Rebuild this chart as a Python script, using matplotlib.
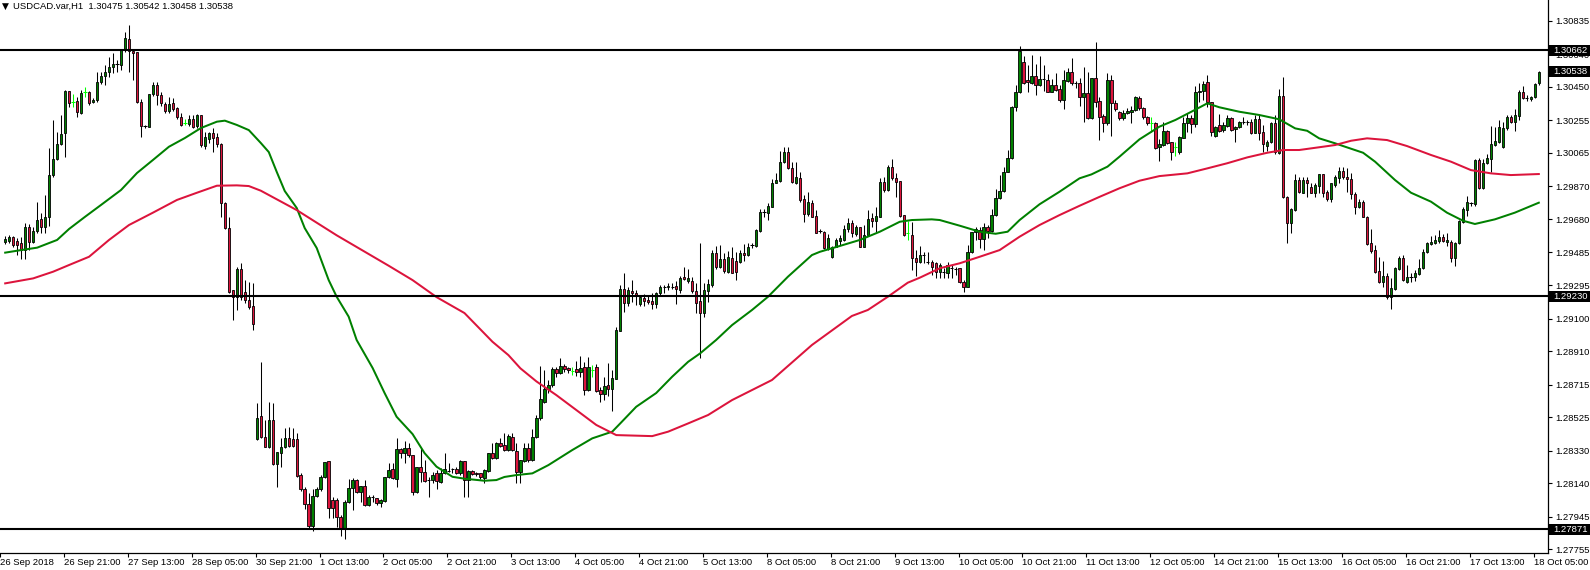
import matplotlib
matplotlib.use("Agg")
import matplotlib.pyplot as plt
from matplotlib.patches import Rectangle
from matplotlib.transforms import IdentityTransform
import numpy as np

plt.rcParams['font.family'] = ['Liberation Sans', 'DejaVu Sans']

# ---------------- data (USDCAD H1) ----------------
opens = [
1.29546,1.29554,1.29573,1.29550,1.29542,1.29499,1.29631,1.29548,1.29608,1.29678,
1.29635,1.29694,1.29934,1.30028,1.30117,1.30179,1.30424,1.30364,1.30370,1.30300,
1.30418,1.30420,1.30360,1.30373,1.30478,1.30513,1.30538,1.30568,1.30581,1.30577,
1.30665,1.30727,1.30661,1.30655,1.30364,1.30222,1.30218,1.30408,1.30461,1.30403,
1.30350,1.30311,1.30354,1.30325,1.30276,1.30241,1.30234,1.30265,1.30222,1.30286,
1.30105,1.30144,1.30179,1.30156,1.30117,1.29775,1.29626,1.29266,1.29227,1.29387,
1.29257,1.29208,1.29173,1.28396,1.28532,1.28408,1.28353,1.28509,1.28252,1.28318,
1.28353,1.28402,1.28396,1.28396,1.28188,1.28105,1.28019,1.27891,1.28066,1.28105,
1.28175,1.28270,1.28043,1.28043,1.27942,1.27872,1.28029,1.28111,1.28159,1.28091,
1.28126,1.28014,1.28062,1.28052,1.28023,1.28039,1.28175,1.28223,1.28165,1.28338,
1.28314,1.28344,1.28305,1.28087,1.28233,1.28204,1.28159,1.28159,1.28198,1.28150,
1.28198,1.28213,1.28221,1.28223,1.28198,1.28270,1.28159,1.28212,1.28202,1.28198,
1.28169,1.28213,1.28314,1.28285,1.28373,1.28363,1.28334,1.28412,1.28330,1.28204,
1.28272,1.28344,1.28276,1.28408,1.28518,1.28616,1.28687,1.28713,1.28804,1.28785,
1.28823,1.28814,1.28796,1.28804,1.28790,1.28816,1.28684,1.28800,1.28816,1.28684,
1.28660,1.28713,1.28687,1.28750,1.29029,1.29270,1.29192,1.29260,1.29247,1.29185,
1.29222,1.29208,1.29204,1.29185,1.29247,1.29282,1.29282,1.29286,1.29290,1.29266,
1.29344,1.29321,1.29321,1.29262,1.29204,1.29134,1.29262,1.29295,1.29480,1.29398,
1.29445,1.29373,1.29451,1.29435,1.29431,1.29484,1.29470,1.29528,1.29525,1.29612,
1.29723,1.29713,1.29752,1.29892,1.29903,1.30014,1.30068,1.29975,1.29892,1.29917,
1.29795,1.29709,1.29771,1.29697,1.29612,1.29606,1.29503,1.29457,1.29519,1.29554,
1.29558,1.29620,1.29655,1.29593,1.29631,1.29519,1.29587,1.29684,1.29670,1.29694,
1.29897,1.29849,1.29985,1.29917,1.29901,1.29703,1.29596,1.29587,1.29455,1.29431,
1.29468,1.29427,1.29431,1.29422,1.29369,1.29369,1.29363,1.29393,1.29387,1.29393,
1.29315,1.29286,1.29486,1.29602,1.29616,1.29564,1.29635,1.29612,1.29703,1.29800,
1.29843,1.29956,1.30034,1.30335,1.30418,1.30593,1.30490,1.30471,1.30513,1.30461,
1.30494,1.30490,1.30422,1.30461,1.30436,1.30373,1.30484,1.30538,1.30471,1.30471,
1.30393,1.30412,1.30270,1.30500,1.30368,1.30280,1.30237,1.30490,1.30354,1.30302,
1.30267,1.30296,1.30305,1.30315,1.30383,1.30325,1.30272,1.30237,1.30237,1.30098,
1.30111,1.30193,1.30129,1.30098,1.30072,1.30154,1.30241,1.30267,1.30232,1.30418,
1.30428,1.30476,1.30364,1.30164,1.30228,1.30199,1.30222,1.30267,1.30202,1.30214,
1.30243,1.30243,1.30247,1.30183,1.30261,1.30185,1.30105,1.30131,1.30237,1.30066,
1.30397,1.29806,1.29655,1.29732,1.29907,1.29833,1.29907,1.29868,1.29830,1.29874,
1.29942,1.29839,1.29795,1.29878,1.29917,1.29960,1.29927,1.29913,1.29826,1.29752,
1.29781,1.29694,1.29542,1.29499,1.29379,1.29315,1.29348,1.29227,1.29270,1.29387,
1.29451,1.29311,1.29340,1.29340,1.29360,1.29393,1.29486,1.29534,1.29542,1.29554,
1.29577,1.29548,1.29548,1.29451,1.29538,1.29664,1.29732,1.29771,1.29767,1.30024,
1.29859,1.30004,1.30028,1.30111,1.30131,1.30098,1.30208,1.30272,1.30247,1.30282,
1.30418,1.30383,1.30377,1.30389,1.30475]

highs = [
1.29581,1.29587,1.29581,1.29567,1.29573,1.29655,1.29651,1.29631,1.29781,1.29717,
1.29820,1.30092,1.30257,1.30189,1.30286,1.30432,1.30428,1.30408,1.30389,1.30432,
1.30451,1.30428,1.30383,1.30538,1.30538,1.30577,1.30626,1.30645,1.30606,1.30669,
1.30772,1.30810,1.30661,1.30655,1.30377,1.30228,1.30408,1.30480,1.30480,1.30422,
1.30364,1.30393,1.30383,1.30331,1.30296,1.30261,1.30286,1.30286,1.30290,1.30286,
1.30189,1.30189,1.30208,1.30179,1.30121,1.29781,1.29694,1.29266,1.29402,1.29422,
1.29325,1.29315,1.29305,1.28610,1.28849,1.28509,1.28616,1.28606,1.28324,1.28402,
1.28460,1.28470,1.28460,1.28431,1.28198,1.28120,1.28082,1.28105,1.28120,1.28188,
1.28266,1.28270,1.28058,1.28052,1.27955,1.28043,1.28163,1.28169,1.28163,1.28126,
1.28159,1.28072,1.28072,1.28052,1.28047,1.28179,1.28256,1.28260,1.28402,1.28344,
1.28388,1.28373,1.28305,1.28237,1.28344,1.28276,1.28179,1.28208,1.28217,1.28227,
1.28314,1.28260,1.28227,1.28237,1.28276,1.28270,1.28217,1.28217,1.28208,1.28202,
1.28221,1.28318,1.28373,1.28382,1.28402,1.28431,1.28427,1.28431,1.28373,1.28276,
1.28373,1.28373,1.28454,1.28538,1.28824,1.28800,1.28742,1.28816,1.28820,1.28868,
1.28833,1.28820,1.28820,1.28854,1.28882,1.28849,1.28878,1.28829,1.28835,1.28703,
1.28761,1.28843,1.28800,1.29049,1.29295,1.29367,1.29286,1.29325,1.29266,1.29231,
1.29243,1.29237,1.29247,1.29257,1.29295,1.29295,1.29309,1.29305,1.29321,1.29348,
1.29402,1.29387,1.29344,1.29305,1.29542,1.29305,1.29328,1.29499,1.29523,1.29528,
1.29480,1.29495,1.29519,1.29490,1.29499,1.29534,1.29538,1.29538,1.29620,1.29736,
1.29736,1.29771,1.29911,1.29946,1.30078,1.30097,1.30101,1.30014,1.30014,1.29956,
1.29820,1.29839,1.29791,1.29732,1.29620,1.29612,1.29593,1.29523,1.29567,1.29587,
1.29645,1.29684,1.29674,1.29645,1.29635,1.29645,1.29732,1.29713,1.29752,1.29917,
1.29927,1.29995,1.30028,1.29946,1.29903,1.29703,1.29670,1.29664,1.29499,1.29523,
1.29490,1.29490,1.29441,1.29431,1.29422,1.29393,1.29431,1.29412,1.29402,1.29396,
1.29325,1.29529,1.29606,1.29635,1.29635,1.29655,1.29645,1.29738,1.29855,1.29936,
1.29985,1.30082,1.30340,1.30461,1.30690,1.30632,1.30577,1.30636,1.30581,1.30632,
1.30577,1.30523,1.30496,1.30529,1.30461,1.30548,1.30558,1.30616,1.30484,1.30500,
1.30568,1.30539,1.30504,1.30713,1.30393,1.30290,1.30529,1.30519,1.30373,1.30309,
1.30315,1.30324,1.30338,1.30397,1.30397,1.30335,1.30280,1.30272,1.30247,1.30144,
1.30247,1.30199,1.30131,1.30131,1.30164,1.30276,1.30296,1.30286,1.30455,1.30470,
1.30486,1.30519,1.30364,1.30222,1.30292,1.30247,1.30286,1.30276,1.30222,1.30253,
1.30272,1.30257,1.30261,1.30286,1.30286,1.30228,1.30140,1.30247,1.30286,1.30436,
1.30505,1.29814,1.29742,1.29942,1.29927,1.29923,1.29923,1.29892,1.29892,1.29942,
1.29942,1.29849,1.29892,1.29936,1.29981,1.29981,1.29975,1.29950,1.29839,1.29795,
1.29791,1.29697,1.29620,1.29528,1.29460,1.29437,1.29363,1.29334,1.29402,1.29464,
1.29470,1.29412,1.29363,1.29383,1.29445,1.29503,1.29548,1.29581,1.29587,1.29616,
1.29593,1.29600,1.29558,1.29548,1.29674,1.29752,1.29814,1.29781,1.30028,1.30033,
1.30028,1.30059,1.30222,1.30218,1.30257,1.30247,1.30286,1.30286,1.30319,1.30432,
1.30455,1.30403,1.30397,1.30470,1.30542]

lows = [
1.29534,1.29542,1.29519,1.29470,1.29445,1.29445,1.29499,1.29542,1.29596,1.29596,
1.29596,1.29639,1.29927,1.30024,1.30111,1.30043,1.30331,1.30335,1.30276,1.30292,
1.30389,1.30344,1.30354,1.30364,1.30467,1.30461,1.30505,1.30529,1.30538,1.30548,
1.30655,1.30538,1.30490,1.30354,1.30156,1.30208,1.30214,1.30397,1.30344,1.30338,
1.30296,1.30300,1.30311,1.30260,1.30222,1.30228,1.30222,1.30208,1.30208,1.30098,
1.30086,1.30125,1.30072,1.30098,1.29694,1.29620,1.29247,1.29091,1.29150,1.29208,
1.29192,1.29154,1.29033,1.28392,1.28402,1.28353,1.28344,1.28246,1.28120,1.28236,
1.28344,1.28353,1.28353,1.28179,1.28097,1.27988,1.27872,1.27864,1.28058,1.28097,
1.28169,1.27936,1.27936,1.27887,1.27833,1.27814,1.28023,1.27985,1.28082,1.28033,
1.28008,1.28008,1.28033,1.28014,1.28000,1.28033,1.28169,1.28163,1.28116,1.28285,
1.28256,1.28295,1.28072,1.28082,1.28150,1.28150,1.28058,1.28140,1.28105,1.28144,
1.28194,1.28208,1.28202,1.28194,1.28188,1.28062,1.28062,1.28188,1.28183,1.28163,
1.28140,1.28208,1.28280,1.28280,1.28353,1.28330,1.28330,1.28330,1.28140,1.28140,
1.28266,1.28266,1.28272,1.28402,1.28509,1.28606,1.28664,1.28703,1.28761,1.28777,
1.28790,1.28781,1.28771,1.28765,1.28761,1.28654,1.28680,1.28761,1.28674,1.28616,
1.28625,1.28649,1.28563,1.28746,1.29029,1.29140,1.29173,1.29198,1.29179,1.29173,
1.29173,1.29185,1.29154,1.29159,1.29237,1.29251,1.29266,1.29270,1.29185,1.29251,
1.29325,1.29309,1.29251,1.29130,1.28868,1.29107,1.29198,1.29286,1.29387,1.29392,
1.29367,1.29367,1.29367,1.29325,1.29426,1.29437,1.29464,1.29509,1.29519,1.29606,
1.29690,1.29674,1.29748,1.29888,1.29897,1.30008,1.29969,1.29888,1.29884,1.29781,
1.29664,1.29697,1.29690,1.29596,1.29596,1.29503,1.29499,1.29451,1.29515,1.29529,
1.29552,1.29606,1.29577,1.29581,1.29515,1.29519,1.29581,1.29631,1.29606,1.29690,
1.29839,1.29845,1.29907,1.29810,1.29690,1.29581,1.29557,1.29383,1.29348,1.29426,
1.29426,1.29418,1.29354,1.29338,1.29334,1.29338,1.29334,1.29338,1.29354,1.29305,
1.29257,1.29286,1.29480,1.29558,1.29513,1.29499,1.29567,1.29606,1.29699,1.29797,
1.29839,1.29952,1.30030,1.30309,1.30412,1.30465,1.30422,1.30465,1.30403,1.30457,
1.30426,1.30418,1.30418,1.30426,1.30364,1.30321,1.30480,1.30461,1.30445,1.30340,
1.30243,1.30263,1.30263,1.30335,1.30140,1.30185,1.30228,1.30166,1.30309,1.30257,
1.30257,1.30290,1.30241,1.30311,1.30315,1.30261,1.30227,1.30189,1.30086,1.30020,
1.30106,1.30117,1.30024,1.30047,1.30059,1.30150,1.30189,1.30183,1.30214,1.30364,
1.30373,1.30334,1.30164,1.30156,1.30189,1.30189,1.30214,1.30195,1.30131,1.30208,
1.30234,1.30228,1.30175,1.30179,1.30140,1.30072,1.30078,1.30125,1.30059,1.30059,
1.29800,1.29542,1.29600,1.29729,1.29833,1.29830,1.29806,1.29830,1.29806,1.29830,
1.29806,1.29787,1.29781,1.29868,1.29888,1.29911,1.29839,1.29795,1.29709,1.29742,
1.29690,1.29528,1.29480,1.29363,1.29309,1.29286,1.29212,1.29154,1.29266,1.29383,
1.29321,1.29309,1.29315,1.29320,1.29354,1.29387,1.29480,1.29528,1.29534,1.29542,
1.29548,1.29523,1.29431,1.29406,1.29534,1.29659,1.29697,1.29756,1.29756,1.29853,
1.29853,1.30000,1.29956,1.30105,1.30125,1.30092,1.30198,1.30237,1.30194,1.30257,
1.30377,1.30369,1.30369,1.30383,1.30458]

closes = [
1.29562,1.29573,1.29527,1.29527,1.29499,1.29635,1.29548,1.29608,1.29674,1.29635,
1.29694,1.29936,1.30028,1.30117,1.30173,1.30428,1.30358,1.30364,1.30305,1.30412,
1.30418,1.30358,1.30373,1.30478,1.30513,1.30538,1.30564,1.30583,1.30581,1.30665,
1.30733,1.30661,1.30649,1.30364,1.30222,1.30222,1.30408,1.30461,1.30403,1.30354,
1.30311,1.30350,1.30319,1.30276,1.30228,1.30241,1.30261,1.30218,1.30284,1.30111,
1.30160,1.30179,1.30150,1.30117,1.29775,1.29626,1.29257,1.29227,1.29387,1.29227,
1.29208,1.29165,1.29066,1.28518,1.28408,1.28353,1.28509,1.28252,1.28324,1.28353,
1.28402,1.28359,1.28359,1.28183,1.28105,1.28019,1.27891,1.28066,1.28105,1.28175,
1.28266,1.27994,1.27994,1.27942,1.27872,1.28033,1.28111,1.28159,1.28091,1.28126,
1.28014,1.28062,1.28062,1.28023,1.28043,1.28179,1.28217,1.28169,1.28338,1.28314,
1.28344,1.28305,1.28087,1.28233,1.28204,1.28155,1.28159,1.28188,1.28155,1.28202,
1.28221,1.28213,1.28221,1.28198,1.28270,1.28159,1.28212,1.28194,1.28192,1.28175,
1.28217,1.28314,1.28285,1.28373,1.28359,1.28334,1.28415,1.28334,1.28208,1.28276,
1.28344,1.28276,1.28408,1.28518,1.28629,1.28687,1.28713,1.28804,1.28785,1.28823,
1.28808,1.28800,1.28796,1.28790,1.28814,1.28684,1.28820,1.28800,1.28680,1.28660,
1.28707,1.28687,1.28752,1.29033,1.29270,1.29192,1.29266,1.29247,1.29237,1.29224,
1.29204,1.29198,1.29185,1.29247,1.29282,1.29282,1.29290,1.29286,1.29270,1.29334,
1.29330,1.29338,1.29262,1.29192,1.29134,1.29266,1.29301,1.29480,1.29402,1.29445,
1.29379,1.29460,1.29367,1.29373,1.29480,1.29470,1.29519,1.29528,1.29616,1.29719,
1.29723,1.29756,1.29888,1.29907,1.30014,1.30072,1.29975,1.29897,1.29927,1.29791,
1.29707,1.29777,1.29694,1.29600,1.29612,1.29509,1.29567,1.29519,1.29558,1.29567,
1.29622,1.29655,1.29596,1.29631,1.29519,1.29585,1.29678,1.29670,1.29697,1.29897,
1.29849,1.29985,1.29917,1.29897,1.29697,1.29587,1.29596,1.29451,1.29431,1.29470,
1.29468,1.29427,1.29398,1.29369,1.29412,1.29369,1.29412,1.29393,1.29387,1.29311,
1.29286,1.29486,1.29602,1.29622,1.29564,1.29635,1.29612,1.29703,1.29800,1.29843,
1.29956,1.30037,1.30335,1.30418,1.30659,1.30471,1.30476,1.30513,1.30461,1.30494,
1.30494,1.30422,1.30461,1.30432,1.30373,1.30490,1.30538,1.30471,1.30471,1.30393,
1.30412,1.30270,1.30500,1.30364,1.30276,1.30237,1.30490,1.30354,1.30321,1.30267,
1.30296,1.30309,1.30315,1.30389,1.30325,1.30272,1.30237,1.30237,1.30092,1.30115,
1.30193,1.30125,1.30072,1.30098,1.30156,1.30241,1.30267,1.30232,1.30418,1.30426,
1.30467,1.30364,1.30189,1.30214,1.30195,1.30228,1.30267,1.30199,1.30218,1.30243,
1.30243,1.30243,1.30183,1.30261,1.30183,1.30117,1.30131,1.30237,1.30072,1.30397,
1.29806,1.29655,1.29736,1.29907,1.29839,1.29907,1.29888,1.29833,1.29878,1.29942,
1.29833,1.29795,1.29888,1.29923,1.29960,1.29923,1.29911,1.29826,1.29752,1.29781,
1.29694,1.29534,1.29495,1.29373,1.29315,1.29348,1.29227,1.29276,1.29393,1.29451,
1.29325,1.29340,1.29340,1.29363,1.29393,1.29490,1.29538,1.29548,1.29558,1.29577,
1.29554,1.29558,1.29451,1.29542,1.29670,1.29736,1.29781,1.29771,1.30024,1.29859,
1.30004,1.30033,1.30117,1.30136,1.30214,1.30208,1.30272,1.30247,1.30286,1.30418,
1.30383,1.30383,1.30392,1.30466,1.30538]

# dojis drawn in the "bar up" (lime) colour
lime_doji_bars = [17, 20, 45, 142, 147, 226, 287, 293]

# moving averages (bar index, value)
green_ma_bar = [0,4,8,13,16,20,24,29,33,37,41,45,49,53,55,58,61,64,66,68,70,73,75,78,81,83,86,88,92,95,98,
                102,105,108,112,115,120,123,125,128,132,136,142,147,152,154,158,163,167,171,174,178,182,187,
                191,196,202,204,209,214,219,224,227,232,234,239,244,248,251,254,259,264,269,272,276,279,284,
                289,293,297,301,304,309,314,319,323,326,329,333,335,340,343,348,352,357,361,365,368,373,378,384]
green_ma_val = [1.29484,1.29499,1.29513,1.29558,1.29622,1.29693,1.29762,1.29849,1.29948,1.30024,1.30101,1.30152,
                1.30210,1.30247,1.30253,1.30228,1.30198,1.30123,1.30070,1.29954,1.29843,1.29744,1.29627,1.29511,
                1.29324,1.29227,1.29111,1.28975,1.28812,1.28666,1.28528,1.28427,1.28316,1.28237,1.28178,1.28167,
                1.28155,1.28159,1.28177,1.28188,1.28198,1.28246,1.28334,1.28402,1.28441,1.28489,1.28586,1.28666,
                1.28761,1.28848,1.28897,1.28975,1.29062,1.29150,1.29227,1.29344,1.29470,1.29489,1.29523,1.29558,
                1.29606,1.29664,1.29674,1.29678,1.29674,1.29641,1.29606,1.29594,1.29606,1.29674,1.29766,1.29839,
                1.29917,1.29940,1.29985,1.30043,1.30144,1.30218,1.30257,1.30305,1.30354,1.30331,1.30305,1.30286,
                1.30261,1.30208,1.30194,1.30150,1.30121,1.30105,1.30066,1.30014,1.29907,1.29833,1.29781,1.29717,
                1.29670,1.29651,1.29678,1.29717,1.29775]
red_ma_bar = [0,7,12,16,21,26,31,37,43,48,53,58,61,64,73,83,96,102,108,115,122,126,129,133,138,143,148,153,162,
              166,171,176,182,192,202,212,216,221,226,229,234,239,244,249,254,259,264,269,274,279,284,289,296,
              301,306,311,316,320,324,329,333,337,341,346,351,357,362,367,372,377,384]
red_ma_val = [1.29305,1.29334,1.29373,1.29412,1.29460,1.29558,1.29645,1.29717,1.29791,1.29833,1.29874,1.29876,
              1.29872,1.29845,1.29732,1.29585,1.29408,1.29324,1.29225,1.29132,1.28965,1.28887,1.28810,1.28734,
              1.28654,1.28567,1.28480,1.28421,1.28415,1.28441,1.28489,1.28538,1.28625,1.28742,1.28946,1.29115,
              1.29150,1.29227,1.29309,1.29338,1.29393,1.29422,1.29460,1.29499,1.29577,1.29645,1.29703,1.29757,
              1.29809,1.29859,1.29903,1.29930,1.29946,1.29975,1.30005,1.30039,1.30066,1.30082,1.30082,1.30098,
              1.30111,1.30136,1.30150,1.30140,1.30105,1.30053,1.30014,1.29965,1.29946,1.29936,1.29942]

hlines_levels = [1.30662, 1.29230, 1.27871]
price_ticks = [1.30835, 1.30640, 1.30450, 1.30255, 1.30065, 1.29870, 1.29680, 1.29485, 1.29295,
               1.29100, 1.28910, 1.28715, 1.28525, 1.28330, 1.28140, 1.27945, 1.27755]
time_labels = ["26 Sep 2018", "26 Sep 21:00", "27 Sep 13:00", "28 Sep 05:00", "30 Sep 21:00",
               "1 Oct 13:00", "2 Oct 05:00", "2 Oct 21:00", "3 Oct 13:00", "4 Oct 05:00",
               "4 Oct 21:00", "5 Oct 13:00", "8 Oct 05:00", "8 Oct 21:00", "9 Oct 13:00",
               "10 Oct 05:00", "10 Oct 21:00", "11 Oct 13:00", "12 Oct 05:00", "14 Oct 21:00",
               "15 Oct 13:00", "16 Oct 05:00", "16 Oct 21:00", "17 Oct 13:00", "18 Oct 05:00"]
label_every = 16
title_text = "USDCAD.var,H1  1.30475 1.30542 1.30458 1.30538"

# ---------------- figure ----------------
W, H = 1590, 570
fig = plt.figure(figsize=(W / 100, H / 100), dpi=100)
fig.patch.set_facecolor("white")
ax = fig.add_axes([0, 17 / H, 1548 / W, 553 / H])
ax.set_xlim(-0.675, 386.3)
ax.set_ylim(1.27734, 1.30956)

o = np.array(opens); hi = np.array(highs); lo = np.array(lows); c = np.array(closes)
idx = np.arange(len(o))

GREEN = "#008000"
RED = "#dc143c"
LIME = "#00ff00"

is_lime = np.isin(idx, lime_doji_bars)
ax.vlines(idx[~is_lime], lo[~is_lime], hi[~is_lime], color="black", lw=0.75, zorder=2)
ax.vlines(idx[is_lime], lo[is_lime], hi[is_lime], color=LIME, lw=0.75, zorder=2)

up = c > o
dn = c < o
eq = c == o
bw = 0.62
ax.bar(idx[up], (c - o)[up], bottom=o[up], width=bw, color=GREEN, edgecolor="black",
       linewidth=0.6, zorder=3)
ax.bar(idx[dn], (o - c)[dn], bottom=c[dn], width=bw, color=RED, edgecolor="black",
       linewidth=0.6, zorder=3)
eq_black = eq & ~is_lime
ax.hlines(c[eq_black], idx[eq_black] - 0.4, idx[eq_black] + 0.4, color="black", lw=0.75, zorder=3)
ax.hlines(c[is_lime], idx[is_lime] - 0.4, idx[is_lime] + 0.4, color=LIME, lw=0.75, zorder=3)

ax.plot(green_ma_bar, green_ma_val, color=GREEN, lw=1.45, zorder=4, solid_joinstyle="round")
ax.plot(red_ma_bar, red_ma_val, color=RED, lw=1.45, zorder=4, solid_joinstyle="round")

for lv in hlines_levels:
    ax.axhline(lv, color="black", lw=1.5, zorder=5)

# axes styling
for s in ["top", "left"]:
    ax.spines[s].set_visible(False)
for s in ["right", "bottom"]:
    ax.spines[s].set_color("black")
    ax.spines[s].set_linewidth(0.9)

ax.yaxis.tick_right()
ax.set_yticks(price_ticks)
ax.set_yticklabels([f"{p:.5f}" for p in price_ticks])
ax.tick_params(axis="y", direction="out", length=3, width=0.8, pad=2.5, labelsize=6.8, colors="black")

tick_pos = [k * label_every - 1.3 for k in range(len(time_labels))]
ax.set_xticks(tick_pos)
ax.set_xticklabels(time_labels)
ax.tick_params(axis="x", direction="out", length=3, width=0.8, pad=0.3, labelsize=6.8, colors="black")
for lbl in ax.get_xticklabels():
    lbl.set_horizontalalignment("left")

# highlighted price boxes on the right scale
fig.canvas.draw()
box_levels = hlines_levels + [closes[-1]]
for lv in box_levels:
    ydisp = ax.transData.transform((0, lv))[1]
    fig.add_artist(Rectangle((1549, ydisp - 5.5), 41, 11, transform=IdentityTransform(),
                             facecolor="black", edgecolor="none", zorder=10))
    fig.text(1553 / W, ydisp / H, f"{lv:.5f}", color="white", fontsize=6.8,
             va="center", ha="left", zorder=11)

# title
fig.text(2 / W, 1 - 6 / H, "\u25BC", fontsize=6.5, va="center", ha="left",
         family=["DejaVu Sans"])
fig.text(13 / W, 1 - 6 / H, title_text, fontsize=6.8, va="center", ha="left")

fig.savefig("out.png", dpi=100)
